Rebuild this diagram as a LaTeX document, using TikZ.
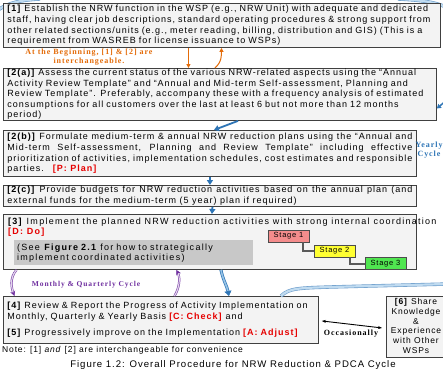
\documentclass[tikz,border=0pt]{standalone}
\usepackage{fontspec}
\setmainfont{Liberation Sans}
\newfontfamily\bx[LetterSpace=11]{Liberation Sans}
\newfontfamily\bxw[LetterSpace=14]{Liberation Sans}
\newfontfamily\bxc[LetterSpace=10]{Liberation Sans}
\newfontfamily\serifx[LetterSpace=12]{Liberation Serif}
\usetikzlibrary{arrows.meta,calc}
\definecolor{bl}{RGB}{46,117,182}
\definecolor{lbl}{RGB}{150,195,230}
\definecolor{pu}{RGB}{112,48,160}
\definecolor{orn}{RGB}{228,108,10}
\definecolor{boxfill}{RGB}{243,243,243}
\definecolor{innergray}{RGB}{200,200,200}
\definecolor{stA}{RGB}{244,140,140}
\definecolor{stB}{RGB}{255,255,50}
\definecolor{stC}{RGB}{80,230,80}
\definecolor{redlab}{RGB}{230,0,0}
\newcommand{\rl}[1]{\textcolor{redlab}{\textbf{#1}}}
\begin{document}
\begin{tikzpicture}[x=1pt,y=-1pt,
  box/.style={draw=black!75, line width=0.9pt, fill=boxfill, anchor=north west,
    inner xsep=4pt, inner ysep=0pt, font=\bx\fontsize{9}{10.6}\selectfont, align=left},
  stagebox/.style={draw=black!70, line width=0.6pt, font=\bxc\fontsize{7.5}{8}\selectfont,
    minimum width=41pt, minimum height=12pt, inner sep=0pt},
  stagecon/.style={draw=black!65, line width=2pt},
  barrow/.style={draw=bl, line width=1.8pt, -{Triangle[length=5pt,width=6pt]}},
  dblue/.style={draw=bl, double=lbl, line width=0.7pt, double distance=1.6pt,
    -{Triangle[length=5pt,width=7pt,fill=bl]}},
  band/.style={draw=bl!70, double=lbl!60, line width=0.6pt, double distance=2.2pt},
  parrow/.style={draw=pu, double=pu!20, line width=0.5pt, double distance=1.2pt,
    -{Stealth[length=5pt,width=5pt,fill=pu]}},
  oarrow/.style={draw=orn, line width=1pt, -{Triangle[length=4pt,width=4pt]}},
  serlab/.style={font=\serifx\bfseries\fontsize{8}{8.4}\selectfont, align=center},
]
\useasboundingbox (0,0) rectangle (443,372);
\clip (0,0) rectangle (443,372);
\fill[white] (0,0) rectangle (443,372);

% decorative arcs of the yearly loop at the top
\coordinate (tl1) at (-2,10);
\coordinate (tl2) at (40,-1);
\draw[band] (tl1) .. controls (8,3) and (20,0) .. (tl2);
\coordinate (tr1) at (398,-1);
\coordinate (tr2) at (446,7);
\draw[band] (tr1) .. controls (420,0) and (435,2) .. (tr2);

% boxes
\node[box, text width=429pt, minimum height=44pt] (b1) at (3,3)
 {\textbf{[1]} Establish the NRW function in the WSP (e.g., NRW Unit) with adequate and dedicated\\
  staff, having clear job descriptions, standard operating procedures \& strong support from\\
  other related sections/units (e.g., meter reading, billing, distribution and GIS) (This is a\\
  requirement from WASREB for license issuance to WSPs)};

\node[box, text width=425pt, minimum height=52pt] (b2a) at (3,68)
 {\textbf{[2(a)]} Assess the current status of the various NRW-related aspects using the “Annual\\
  Activity Review Template” and “Annual and Mid-term Self-assessment, Planning and\\
  Review Template”. Preferably, accompany these with a frequency analysis of estimated\\
  consumptions for all customers over the last at least 6 but not more than 12 months\\
  period)};

\node[box, text width=405pt, minimum height=46pt, align=justify] (b2b) at (3,130)
 {\textbf{[2(b)]} Formulate medium-term \& annual NRW reduction plans using the “Annual and\linebreak
  Mid-term Self-assessment, Planning and Review Template” including effective\linebreak
  prioritization of activities, implementation schedules, cost estimates and responsible\linebreak
  parties.\quad\rl{[P: Plan]}};

\node[box, text width=405pt, minimum height=21pt, align=justify] (b2c) at (3,185)
 {\textbf{[2(c)]} Provide budgets for NRW reduction activities based on the annual plan (and\linebreak
  external funds for the medium-term (5 year) plan if required)};

\node[box, minimum width=413pt, minimum height=55pt] (b3) at (3,214) {};
\node[anchor=north west, inner sep=0pt, font=\bxw\fontsize{9}{10}\selectfont, align=left] (t3) at (8,218)
 {\textbf{[3]} Implement the planned NRW reduction activities with strong internal coordination\\
  \rl{[D: Do]}};
\node[anchor=north west, fill=innergray, minimum width=239pt, minimum height=23pt, inner xsep=3pt,
  text width=233pt, font=\bxw\fontsize{9}{10}\selectfont, align=left] (g3) at (14,240)
 {(See \textbf{Figure 2.1} for how to strategically\\ implement coordinated activities)};

\node[stagebox, fill=stA] (s1) at (288.5,236) {Stage 1};
\node[stagebox, fill=stB] (s2) at (334.5,251) {Stage 2};
\node[stagebox, fill=stC] (s3) at (385.5,263.5) {Stage 3};
\draw[stagecon] ([xshift=14pt]s1.south) |- (s2.west);
\draw[stagecon] ([xshift=15pt]s2.south) |- (s3.west);

\node[box, text width=307pt, minimum height=47pt] (b4) at (3,296)
 {\textbf{[4]} Review \& Report the Progress of Activity Implementation on\\
  Monthly, Quarterly \& Yearly Basis \rl{[C: Check]} and\\[6pt]
  \textbf{[5]} Progressively improve on the Implementation \rl{[A: Adjust]}};

\node[box, minimum width=80pt, minimum height=61pt] (b6) at (386,296) {};
\node[font=\bxc\fontsize{8.5}{9.7}\selectfont, align=center, inner sep=0pt] (t6) at (416,326)
 {\textbf{[6]} Share\\ Knowledge\\ \&\\ Experience\\ with Other\\ WSPs};

% texts
\node[serlab, text=orn] (ot) at (89,57) {At the Beginning, [1] \& [2] are\\ interchangeable.};
\node[serlab, text=bl] (yc) at (429,150) {Yearly\\ Cycle};
\node[serlab, text=pu, font=\serifx\bfseries\fontsize{7.5}{8}\selectfont] (mq) at (86,285) {Monthly \& Quarterly Cycle};
\node[serlab, text=black] (oc) at (351,334) {Occasionally};
\node[anchor=west, inner sep=0pt, font=\bxc\fontsize{8.5}{9}\selectfont] (note) at (2,350)
 {Note: [1] \textit{and} [2] are interchangeable for convenience};
\node[inner sep=0pt, font=\bxc\fontsize{9.6}{11}\selectfont] (cap) at (233,365)
 {Figure 1.2: Overall Procedure for NRW Reduction \& PDCA Cycle};

% orange arrows
\draw[oarrow] ([xshift=-33.5pt]b1.south) -- ([xshift=-31.5pt]b2a.north);
\draw[oarrow] ([xshift=-5pt]b2a.north) .. controls +(7,-6) and +(0,7) .. ([xshift=-0.5pt]b1.south);

% blue arrows
\draw[barrow] ([xshift=18pt]b2a.south) -- ([xshift=4pt]b2b.north);
\draw[barrow] (b2b.south) -- (b2c.north);
\draw[barrow] ([xshift=2.5pt]b2c.south) -- ([xshift=2pt]b3.north);
\draw[dblue] ([xshift=11pt]b3.south) .. controls +(2,10) and +(-2,-10) .. ([xshift=68pt]b4.north);

% yearly loop band
\coordinate (yr) at (448,284);
\draw[band] ([xshift=120pt]b4.north) .. controls +(8,-8) and +(-30,1) .. (330,287) -- (yr);
\coordinate (yr2) at (448,99);
\draw[draw=bl, line width=1.5pt, -{Triangle[length=4pt,width=5pt]}] (yr2) -- ([yshift=-14pt]b2a.east);

% purple arrows
\draw[parrow] ([xshift=-193.5pt]b3.south) .. controls +(-7,8) and +(-3,-8) .. ([xshift=-146.5pt]b4.north);
\draw[parrow] ([xshift=13.5pt]b4.north) .. controls +(5,-8) and +(4,8) .. ([xshift=-33.5pt]b3.south);

% occasionally arrow
\draw[black, line width=0.9pt, {Stealth[length=4pt]}-{Stealth[length=4pt]}] ([xshift=3pt,yshift=-1pt]b4.east) -- ([xshift=-4pt,yshift=-1pt]b6.west);
\end{tikzpicture}
\end{document}
